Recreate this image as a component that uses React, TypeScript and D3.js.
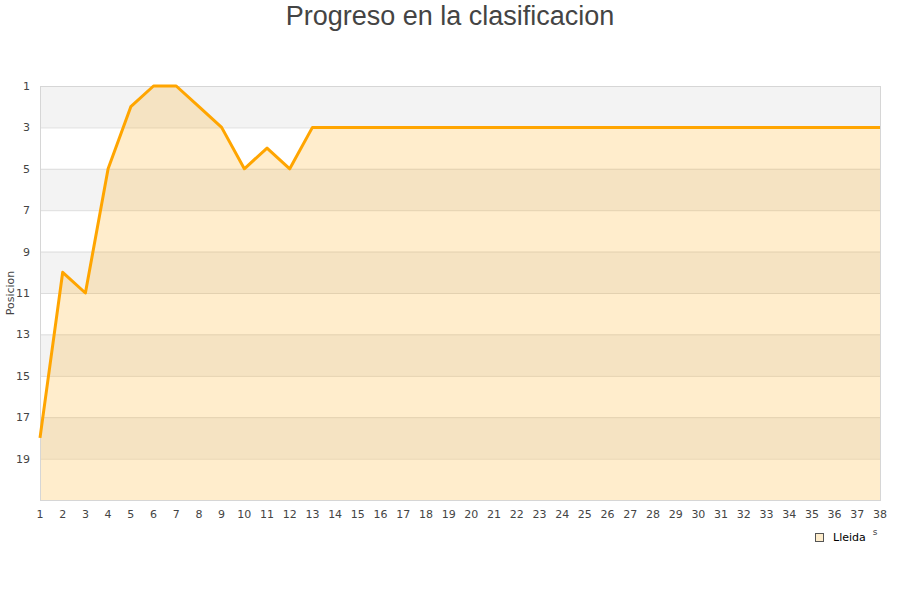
import React, { useEffect, useRef } from 'react';
import * as d3 from 'd3';

// Posicion por jornada
const rounds = d3.range(1, 39);
const positions = [18, 10, 11, 5, 2, 1, 1, 2, 3, 5, 4, 5, 3,
  3, 3, 3, 3, 3, 3, 3, 3, 3, 3, 3, 3, 3, 3, 3, 3, 3, 3, 3, 3, 3, 3, 3, 3, 3];
const yTicks = [1, 3, 5, 7, 9, 11, 13, 15, 17, 19];
const title = 'Progreso en la clasificacion';
const teamName = 'Lleida';

const App: React.FC = () => {
  const svgRef = useRef<SVGSVGElement>(null);

  useEffect(() => {
    if (!svgRef.current) return;
    const svg = d3.select(svgRef.current);
    svg.selectAll('*').remove();

    const left = 40, right = 880, top = 86, bottom = 500;
    const font = 'DejaVu Sans, sans-serif';

    const x = d3.scaleLinear().domain([1, 38]).range([left, right]);
    const y = d3.scaleLinear().domain([1, 21]).range([top, bottom]);

    // bandas alternas
    const bands = d3.range(1, 21, 2);
    svg.append('g').selectAll('rect')
      .data(bands)
      .enter()
      .append('rect')
      .attr('x', left)
      .attr('width', right - left)
      .attr('y', d => y(d))
      .attr('height', d => y(d + 2) - y(d))
      .attr('fill', (d, i) => (i % 2 === 0 ? '#f3f3f3' : '#ffffff'));

    // lineas de rejilla
    svg.append('g').selectAll('line')
      .data(yTicks)
      .enter()
      .append('line')
      .attr('x1', left)
      .attr('x2', right)
      .attr('y1', d => y(d) + 0.5)
      .attr('y2', d => y(d) + 0.5)
      .attr('stroke', '#dddddd')
      .attr('stroke-width', 1);

    const series = rounds.map((r, i) => ({ r, p: positions[i] }));

    const area = d3.area<{ r: number; p: number }>()
      .x(d => x(d.r))
      .y0(y(21))
      .y1(d => y(d.p));

    svg.append('path')
      .attr('d', area(series) as string)
      .attr('fill', 'rgba(255,165,0,0.2)');

    // borde
    svg.append('rect')
      .attr('x', left + 0.5)
      .attr('y', top + 0.5)
      .attr('width', right - left)
      .attr('height', bottom - top)
      .attr('fill', 'none')
      .attr('stroke', '#d6d6d6');

    const line = d3.line<{ r: number; p: number }>()
      .x(d => x(d.r))
      .y(d => y(d.p));

    svg.append('path')
      .attr('d', line(series) as string)
      .attr('fill', 'none')
      .attr('stroke', '#ffa500')
      .attr('stroke-width', 3)
      .attr('stroke-linejoin', 'round');

    // eje y
    svg.append('g').selectAll('text')
      .data(yTicks)
      .enter()
      .append('text')
      .attr('x', 30)
      .attr('y', d => y(d) + 4)
      .attr('text-anchor', 'end')
      .attr('font-family', font)
      .attr('font-size', 11)
      .attr('fill', '#444')
      .text(d => d);

    svg.append('text')
      .attr('transform', `translate(14,${(top + bottom) / 2}) rotate(-90)`)
      .attr('text-anchor', 'middle')
      .attr('font-family', font)
      .attr('font-size', 11)
      .attr('fill', '#444')
      .text('Posicion');

    // eje x
    svg.append('g').selectAll('text')
      .data(rounds)
      .enter()
      .append('text')
      .attr('x', d => x(d))
      .attr('y', 518)
      .attr('text-anchor', 'middle')
      .attr('font-family', font)
      .attr('font-size', 11)
      .attr('fill', '#444')
      .text(d => d);

    svg.append('text')
      .attr('x', 875)
      .attr('y', 535)
      .attr('text-anchor', 'middle')
      .attr('font-family', font)
      .attr('font-size', 9)
      .attr('fill', '#444')
      .text('s');

    // titulo
    svg.append('text')
      .attr('x', 450)
      .attr('y', 25)
      .attr('text-anchor', 'middle')
      .attr('font-family', 'Liberation Sans, Arial, sans-serif')
      .attr('font-size', 27)
      .attr('fill', '#444')
      .text(title);

    // leyenda
    svg.append('rect')
      .attr('x', 815.5)
      .attr('y', 533.5)
      .attr('width', 8)
      .attr('height', 8)
      .attr('fill', '#feedcc')
      .attr('stroke', '#555');

    svg.append('text')
      .attr('x', 833)
      .attr('y', 541)
      .attr('font-family', font)
      .attr('font-size', 11)
      .attr('fill', '#000')
      .text(teamName);
  }, []);

  return (
    <svg
      ref={svgRef}
      width={900}
      height={600}
      style={{ display: 'block', position: 'absolute', left: 0, top: 0, background: '#fff' }}
    />
  );
};

export default App;
